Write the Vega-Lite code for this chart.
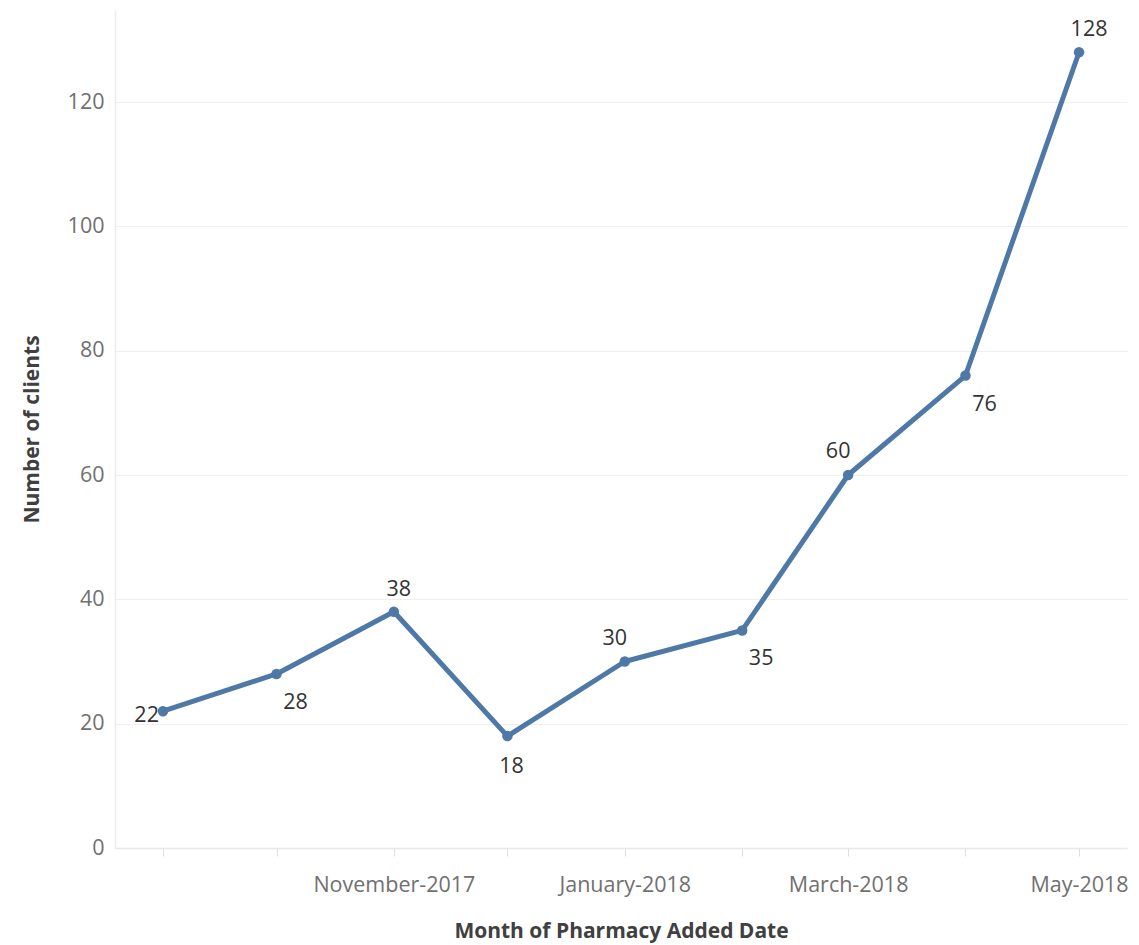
{
  "$schema": "https://vega.github.io/schema/vega-lite/v6.json",
  "width": 1012,
  "height": 838,
  "autosize": {"type": "none"},
  "padding": {"left": 115, "top": 10, "right": 12, "bottom": 97},
  "background": "white",
  "config": {
    "view": {"stroke": null},
    "font": "Open Sans"
  },
  "data": {
    "values": [
      {"month": "2017-09-01", "clients": 22},
      {"month": "2017-10-01", "clients": 28},
      {"month": "2017-11-01", "clients": 38},
      {"month": "2017-12-01", "clients": 18},
      {"month": "2018-01-01", "clients": 30},
      {"month": "2018-02-01", "clients": 35},
      {"month": "2018-03-01", "clients": 60},
      {"month": "2018-04-01", "clients": 76},
      {"month": "2018-05-01", "clients": 128}
    ]
  },
  "encoding": {
    "x": {
      "field": "month",
      "type": "temporal",
      "scale": {
        "type": "utc",
        "domain": [
          {"year": 2017, "month": 8, "date": 19, "hours": 8, "utc": true},
          {"year": 2018, "month": 5, "date": 13, "hours": 16, "utc": true}
        ]
      },
      "axis": {
        "title": "Month of Pharmacy Added Date",
        "values": [
          {"year": 2017, "month": 9, "date": 1, "utc": true},
          {"year": 2017, "month": 10, "date": 1, "utc": true},
          {"year": 2017, "month": 11, "date": 1, "utc": true},
          {"year": 2017, "month": 12, "date": 1, "utc": true},
          {"year": 2018, "month": 1, "date": 1, "utc": true},
          {"year": 2018, "month": 2, "date": 1, "utc": true},
          {"year": 2018, "month": 3, "date": 1, "utc": true},
          {"year": 2018, "month": 4, "date": 1, "utc": true},
          {"year": 2018, "month": 5, "date": 1, "utc": true}
        ],
        "labelExpr": "indexof([10,0,2,4], utcmonth(datum.value)) >= 0 ? utcFormat(datum.value, '%B-%Y') : ''",
        "grid": false,
        "domainColor": "#e8e8e8",
        "domainWidth": 1.5,
        "tickColor": "#e0e0e0",
        "tickSize": 8,
        "labelFontSize": 21.5,
        "labelColor": "#707070",
        "labelPadding": 18,
        "labelOverlap": false,
        "labelFlush": false,
        "titleFontSize": 21,
        "titleFontWeight": "bold",
        "titleColor": "#404040",
        "titlePadding": 25
      }
    },
    "y": {
      "field": "clients",
      "type": "quantitative",
      "scale": {"domain": [0, 134.8], "nice": false},
      "axis": {
        "title": "Number of clients",
        "values": [0, 20, 40, 60, 80, 100, 120],
        "grid": true,
        "gridColor": "#efefef",
        "gridWidth": 1.2,
        "domainColor": "#ebebeb",
        "domainWidth": 1.5,
        "ticks": false,
        "labelPadding": 11,
        "labelFontSize": 21.5,
        "labelColor": "#707070",
        "titleFontSize": 21,
        "titleFontWeight": "bold",
        "titleColor": "#404040",
        "titlePadding": 25
      }
    }
  },
  "layer": [
    {
      "mark": {"type": "line", "color": "#4e79a7", "strokeWidth": 5, "strokeCap": "round", "strokeJoin": "round"}
    },
    {
      "mark": {"type": "point", "filled": true, "color": "#4e79a7", "opacity": 1, "size": 110}
    },
    {
      "transform": [{"filter": {"field": "clients", "oneOf": [22]}}],
      "mark": {"type": "text", "align": "right", "baseline": "middle", "dx": -4, "dy": 5, "fontSize": 21.5, "color": "#333333"},
      "encoding": {"text": {"field": "clients", "type": "quantitative"}}
    },
    {
      "transform": [{"filter": {"field": "clients", "oneOf": [28, 35, 76]}}],
      "mark": {"type": "text", "align": "center", "baseline": "middle", "dx": 19, "dy": 29, "fontSize": 21.5, "color": "#333333"},
      "encoding": {"text": {"field": "clients", "type": "quantitative"}}
    },
    {
      "transform": [{"filter": {"field": "clients", "oneOf": [18]}}],
      "mark": {"type": "text", "align": "center", "baseline": "middle", "dx": 4, "dy": 31, "fontSize": 21.5, "color": "#333333"},
      "encoding": {"text": {"field": "clients", "type": "quantitative"}}
    },
    {
      "transform": [{"filter": {"field": "clients", "oneOf": [38]}}],
      "mark": {"type": "text", "align": "center", "baseline": "middle", "dx": 5, "dy": -22, "fontSize": 21.5, "color": "#333333"},
      "encoding": {"text": {"field": "clients", "type": "quantitative"}}
    },
    {
      "transform": [{"filter": {"field": "clients", "oneOf": [30, 60]}}],
      "mark": {"type": "text", "align": "center", "baseline": "middle", "dx": -10, "dy": -23, "fontSize": 21.5, "color": "#333333"},
      "encoding": {"text": {"field": "clients", "type": "quantitative"}}
    },
    {
      "transform": [{"filter": {"field": "clients", "oneOf": [128]}}],
      "mark": {"type": "text", "align": "center", "baseline": "middle", "dx": 10, "dy": -22, "fontSize": 21.5, "color": "#333333"},
      "encoding": {"text": {"field": "clients", "type": "quantitative"}}
    }
  ]
}
